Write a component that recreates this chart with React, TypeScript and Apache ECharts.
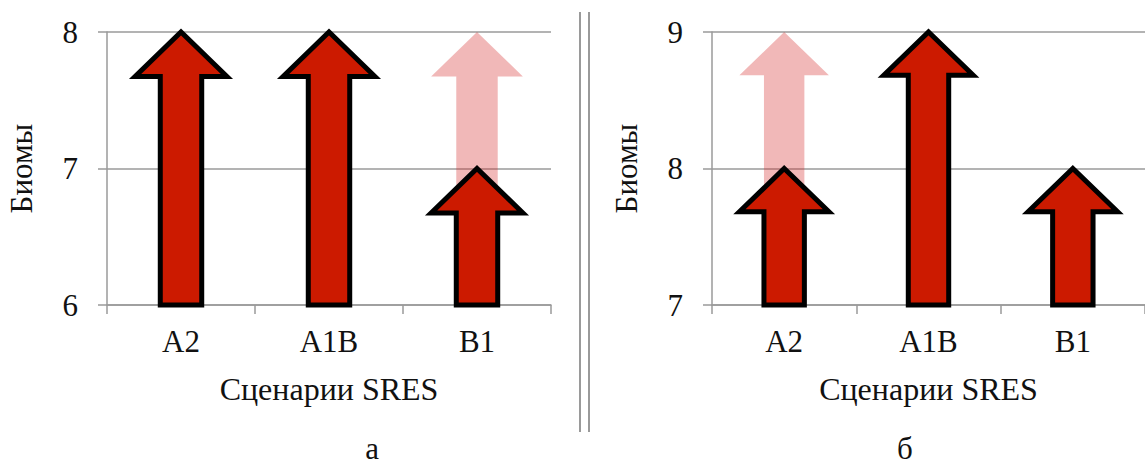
import React, { useEffect, useRef } from "react";
import * as echarts from "echarts";

// ---- data ----
const categories = ["A2", "A1B", "B1"];

// panel "а"
const panelABase = [6, 6, 6];
const panelAValues = [8, 8, 7];
const panelAFaded = [null, null, 8];
const panelATicks = { min: 6, max: 8, interval: 1 };

// panel "б"
const panelBBase = [7, 7, 7];
const panelBValues = [8, 9, 8];
const panelBFaded = [9, null, null];
const panelBTicks = { min: 7, max: 9, interval: 1 };

const yAxisName = "Биомы";
const xAxisName = "Сценарии SRES";
const panelLabels = ["а", "б"];

const FONT = "Liberation Serif";
const RED = "#CC1A00";
const FADED = "rgba(214, 40, 40, 0.33)";
const GRID_GRAY = "#9a9a9a";

function arrowRenderer(fill: string, stroke: string | null, lineWidth: number) {
  return (params: any, api: any) => {
    const cat = api.value(0);
    const from = api.value(1);
    const to = api.value(2);
    const base = api.coord([cat, from]);
    const tip = api.coord([cat, to]);
    const band = api.size([1, 0])[0];
    const cx = base[0];
    const sh = band * 0.14;
    const hh = band * 0.31;
    const hH = band * 0.3;
    const by = tip[1] + hH;
    const points = [
      [cx - sh, base[1]],
      [cx - sh, by],
      [cx - hh, by],
      [cx, tip[1]],
      [cx + hh, by],
      [cx + sh, by],
      [cx + sh, base[1]],
    ];
    return {
      type: "polygon",
      shape: { points },
      style: {
        fill,
        stroke: stroke || "none",
        lineWidth: stroke ? lineWidth : 0,
        lineJoin: "miter",
      },
    };
  };
}

function toItems(base: number[], vals: (number | null)[]) {
  const out: any[] = [];
  vals.forEach((v, i) => {
    if (v !== null && v !== undefined) out.push([i, base[i], v]);
  });
  return out;
}

function makeXAxis(gridIndex: number) {
  return {
    type: "category",
    gridIndex,
    data: categories,
    boundaryGap: true,
    name: xAxisName,
    nameLocation: "middle",
    nameGap: 68,
    nameTextStyle: { fontFamily: FONT, fontSize: 32, color: "#111" },
    axisLine: { show: true, lineStyle: { color: GRID_GRAY, width: 1.5 } },
    axisTick: { show: true, length: 9, interval: 0, lineStyle: { color: GRID_GRAY, width: 1.5 } },
    axisLabel: { fontFamily: FONT, fontSize: 31, color: "#111", margin: 21, interval: 0 },
    splitLine: { show: false },
  };
}

function makeYAxis(gridIndex: number, t: { min: number; max: number; interval: number }) {
  return {
    type: "value",
    gridIndex,
    min: t.min,
    max: t.max,
    interval: t.interval,
    name: yAxisName,
    nameLocation: "middle",
    nameRotate: 90,
    nameGap: 70,
    nameTextStyle: { fontFamily: FONT, fontSize: 31, color: "#111" },
    axisLine: { show: true, lineStyle: { color: GRID_GRAY, width: 1.5 } },
    axisTick: { show: true, length: 9, lineStyle: { color: GRID_GRAY, width: 1.5 } },
    axisLabel: { fontFamily: FONT, fontSize: 31, color: "#111", margin: 29 },
    splitLine: { show: true, lineStyle: { color: GRID_GRAY, width: 1.5 } },
  };
}

export default function App() {
  const ref = useRef<HTMLDivElement>(null);

  useEffect(() => {
    if (!ref.current) return;
    const chart = echarts.init(ref.current, null, { renderer: "svg" });
    chart.setOption({
      animation: false,
      backgroundColor: "#ffffff",
      textStyle: { fontFamily: FONT },
      grid: [
        { left: 107, top: 32, width: 444, height: 273 },
        { left: 712, top: 32, width: 443, height: 273 },
      ],
      xAxis: [makeXAxis(0), makeXAxis(1)],
      yAxis: [makeYAxis(0, panelATicks), makeYAxis(1, panelBTicks)],
      series: [
        {
          type: "custom",
          xAxisIndex: 0,
          yAxisIndex: 0,
          renderItem: arrowRenderer(FADED, null, 0),
          data: toItems(panelABase, panelAFaded),
          z: 2,
        },
        {
          type: "custom",
          xAxisIndex: 0,
          yAxisIndex: 0,
          renderItem: arrowRenderer(RED, "#000000", 5),
          data: toItems(panelABase, panelAValues),
          z: 3,
        },
        {
          type: "custom",
          xAxisIndex: 1,
          yAxisIndex: 1,
          renderItem: arrowRenderer(FADED, null, 0),
          data: toItems(panelBBase, panelBFaded),
          z: 2,
        },
        {
          type: "custom",
          xAxisIndex: 1,
          yAxisIndex: 1,
          renderItem: arrowRenderer(RED, "#000000", 5),
          data: toItems(panelBBase, panelBValues),
          z: 3,
        },
      ],
      graphic: [
        {
          type: "line",
          shape: { x1: 580, y1: 12, x2: 580, y2: 432 },
          style: { stroke: "#9a9a9a", lineWidth: 2 },
        },
        {
          type: "line",
          shape: { x1: 589, y1: 12, x2: 589, y2: 432 },
          style: { stroke: "#9a9a9a", lineWidth: 2 },
        },
        {
          type: "text",
          x: 372,
          y: 448,
          style: {
            text: panelLabels[0],
            fontFamily: FONT,
            fontSize: 31,
            fill: "#111",
            textAlign: "center",
            textVerticalAlign: "middle",
          },
        },
        {
          type: "text",
          x: 905,
          y: 448,
          style: {
            text: panelLabels[1],
            fontFamily: FONT,
            fontSize: 31,
            fill: "#111",
            textAlign: "center",
            textVerticalAlign: "middle",
          },
        },
      ],
    });
    return () => chart.dispose();
  }, []);

  return (
    <div
      ref={ref}
      style={{ position: "absolute", left: 0, top: 0, width: 1145, height: 464 }}
    />
  );
}
